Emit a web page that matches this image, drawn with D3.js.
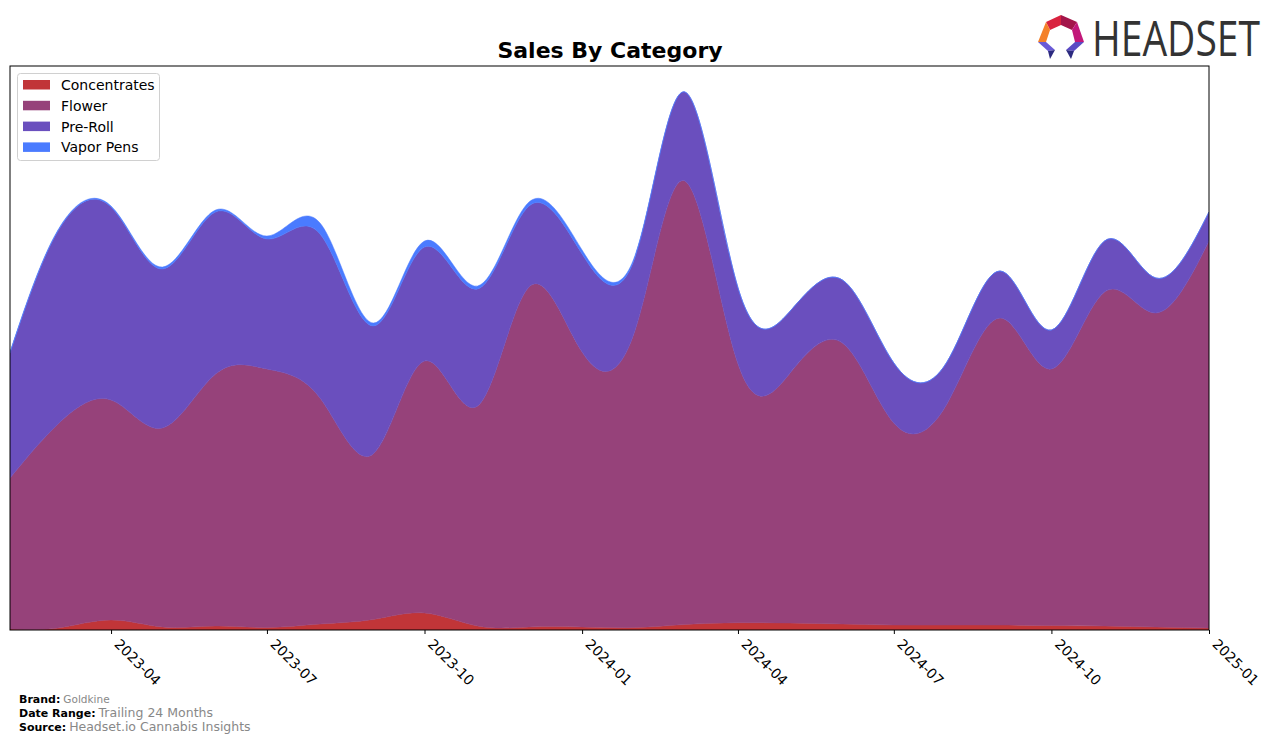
<!DOCTYPE html>
<html><head><meta charset="utf-8">
<script src="https://cdn.jsdelivr.net/npm/d3@7/dist/d3.min.js"></script>
<style>body{margin:0;background:#fff}svg{display:block}</style>
</head><body><svg id="chart" width="1276" height="743"></svg>
<script>
const months = ["2023-02","2023-03","2023-04","2023-05","2023-06","2023-07","2023-08","2023-09","2023-10","2023-11","2023-12","2024-01","2024-02","2024-03","2024-04","2024-05","2024-06","2024-07","2024-08","2024-09","2024-10","2024-11","2024-12","2025-01"];
const categories = ["Concentrates","Flower","Pre-Roll","Vapor Pens"];
const concentrates = [1,2,10,3,4,2.5,6,10.5,17,4,3,3,2.5,5.5,7.3,7,6,5,5,5,4.5,4,3,2];
const flower = [151,204,220,199,252,258.5,226,165.5,252,220,340,275,297.5,443.5,259,249,281,202,221,307,256.5,334,314,387];
const preRoll = [125,193,193,159,162,130,164,128,114,117,81,98,73,89,76,62,63,60,42,47,39,51,35,29];
const vaporPens = [1,1,1,2,2,3,11,3,6,3,4,4,2,0,0,0,0,0,0,0,0,0,0,0];
const tickLabels = ["2023-04","2023-07","2023-10","2024-01","2024-04","2024-07","2024-10","2025-01"];
const colors = ["#c13538","#96427a","#6a4fbe","#4a7bff"];

const parse = d3.timeParse("%Y-%m");
const rows = months.map((m,i)=>({date:parse(m),"Concentrates":concentrates[i],"Flower":flower[i],"Pre-Roll":preRoll[i],"Vapor Pens":vaporPens[i]}));

const svg = d3.select("#chart");
const L=10,R=1209,T=66,B=630;
const x = d3.scaleTime().domain(d3.extent(rows,d=>d.date)).range([L,R]);
const y = d3.scaleLinear().domain([0,564]).range([B,T]);

const stack = d3.stack().keys(categories);
const series = stack(rows);
const area = d3.area().curve(d3.curveNatural)
  .x(d=>x(d.data.date)).y0(d=>y(d[0])).y1(d=>y(d[1]));

svg.append("defs").append("clipPath").attr("id","clip").append("rect")
  .attr("x",L).attr("y",T).attr("width",R-L).attr("height",B-T);

svg.append("g").attr("clip-path","url(#clip)").selectAll("path").data(series).join("path")
  .attr("d",area).attr("fill",(d,i)=>colors[i]).attr("stroke",(d,i)=>colors[i]).attr("stroke-width",0.5);

// frame
svg.append("rect").attr("x",L).attr("y",T).attr("width",R-L).attr("height",B-T)
  .attr("fill","none").attr("stroke","#000").attr("stroke-width",1);

// x axis
const tickDates = tickLabels.map(parse);
const ax = svg.append("g").attr("transform",`translate(0,${B})`)
  .call(d3.axisBottom(x).tickValues(tickDates).tickFormat(d3.timeFormat("%Y-%m")).tickSize(4).tickSizeOuter(0));
ax.select(".domain").remove();
ax.selectAll(".tick line").attr("stroke","#000");
ax.selectAll(".tick text").attr("font-family","DejaVu Sans").attr("font-size",14).attr("fill","#000")
  .attr("text-anchor","start").attr("dy",0).attr("y",0)
  .attr("transform","translate(2,15) rotate(45)");

// title
svg.append("text").attr("x",610).attr("y",58).attr("text-anchor","middle")
  .attr("font-family","DejaVu Sans").attr("font-weight","bold").attr("font-size",22).text("Sales By Category");

// legend
const lg = svg.append("g");
lg.append("rect").attr("x",17.5).attr("y",73.5).attr("width",142).attr("height",87).attr("rx",3)
  .attr("fill","#fff").attr("fill-opacity",0.8).attr("stroke","#d0d0d0");
categories.forEach((c,i)=>{
  const yy = 80 + i*20.8;
  lg.append("rect").attr("x",23).attr("y",yy).attr("width",27).attr("height",9.5).attr("fill",colors[i]);
  lg.append("text").attr("x",61).attr("y",yy+10).attr("font-family","DejaVu Sans").attr("font-size",14).text(c);
});

// footer
const foot = [["Brand:","Goldkine",10.5],["Date Range:","Trailing 24 Months",12.5],["Source:","Headset.io Cannabis Insights",12.5]];
foot.forEach((f,i)=>{
  const t = svg.append("text").attr("x",19).attr("y",703+i*14).attr("font-family","DejaVu Sans");
  t.append("tspan").attr("font-weight","bold").attr("font-size",11).attr("fill","#000").text(f[0]);
  t.append("tspan").attr("dx",3).attr("font-size",f[2]).attr("fill","#888").text(f[1]);
});

// logo
const logo = svg.append("g");
const polys = [
  [[1061,15],[1046,22],[1050,30],[1061,25],"#d9233f"],
  [[1061,15],[1077,22],[1072,30],[1061,25],"#a3154a"],
  [[1046,22],[1038,42],[1046,42],[1050,30],"#f4812a"],
  [[1077,22],[1084,42],[1075,42],[1072,30],"#c2187a"],
  [[1038,42],[1046,42],[1055,50],[1048,51],"#6a5ad6"],
  [[1048,51],[1055,50],[1050,59],"#2c2a80"],
  [[1084,42],[1075,42],[1066,50],[1074,51],"#5b4bc4"],
  [[1074,51],[1066,50],[1071,59],"#2c2a80"]
];
polys.forEach(p=>{
  const col = p[p.length-1];
  logo.append("polygon").attr("points",p.slice(0,-1).map(q=>q.join(",")).join(" ")).attr("fill",col);
});
const lt = logo.append("text").attr("x",0).attr("y",0).attr("font-family","Open Sans").attr("font-size",50)
  .attr("fill","#333").text("HEADSET");
const w = lt.node().getComputedTextLength();
lt.attr("transform",`translate(1092,56) scale(${168/w},1)`);
</script></body></html>
